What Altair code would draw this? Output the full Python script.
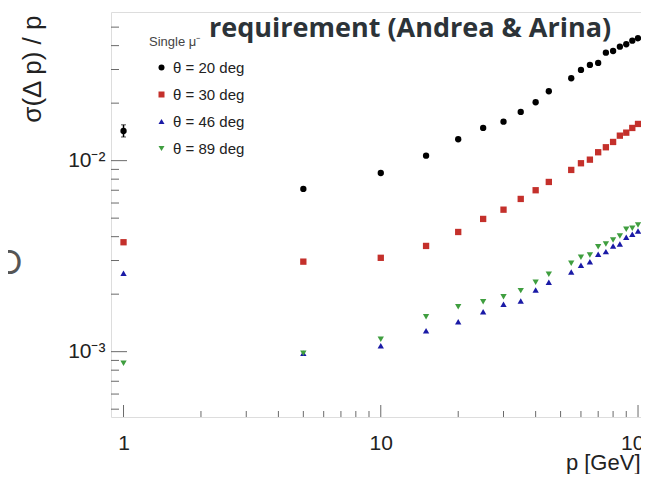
import altair as alt
import pandas as pd

# ---------------- data ----------------
p_values = [1, 5, 10, 15, 20, 25, 30, 35, 40, 45, 55, 60, 65, 70, 75, 80, 85, 90, 95, 100]

theta20 = [0.0143, 0.00711, 0.00862, 0.01062, 0.01294, 0.01483, 0.0160, 0.01799, 0.02021, 0.02309,
           0.0270, 0.02985, 0.0317, 0.03247, 0.03675, 0.03751, 0.03952, 0.04068, 0.04249, 0.04374]
theta30 = [0.00374, 0.00296, 0.00310, 0.003577, 0.004232, 0.004953, 0.005538, 0.006303, 0.0070, 0.007735,
           0.00894, 0.009691, 0.01012, 0.011066, 0.011751, 0.012527, 0.013514, 0.014014, 0.01483, 0.015565]
theta46 = [0.002573, 0.000981, 0.001075, 0.001288, 0.001436, 0.00162, 0.001771, 0.001842, 0.002104, 0.002309,
           0.002615, 0.002834, 0.00296, 0.003236, 0.00334, 0.003577, 0.003664, 0.003972, 0.004118, 0.004285]
theta89 = [0.00087, 0.000981, 0.00116, 0.001525, 0.00172, 0.001827, 0.001941, 0.002087, 0.002309, 0.002542,
           0.002903, 0.00312, 0.003208, 0.003545, 0.003664, 0.003845, 0.004034, 0.004373, 0.004426, 0.004606]

series_names = ["θ = 20 deg", "θ = 30 deg", "θ = 46 deg", "θ = 89 deg"]
series_colors = ["#000000", "#c4302b", "#1a1aa6", "#3f9e3f"]
series_shapes = ["circle", "square", "triangle-up", "triangle-down"]

# error bar on the first point of theta = 20 deg
err_p = [1]
err_lo = [0.0133]
err_hi = [0.0154]

x_major = [1, 10, 100]
x_minor = [2, 3, 4, 5, 6, 7, 8, 9, 20, 30, 40, 50, 60, 70, 80, 90]
y_major = [0.001, 0.01]
y_minor = [0.0005, 0.0006, 0.0007, 0.0008, 0.0009,
           0.002, 0.003, 0.004, 0.005, 0.006, 0.007, 0.008, 0.009,
           0.02, 0.03, 0.04, 0.05]

x_domain = [0.894, 102.7]
y_domain = [0.000455, 0.0600]

title_text = "requirement (Andrea & Arina)"
x_title = "p [GeV]"
y_title = "σ(Δ p) / p"
legend_title = "Single μ⁻"

# ---------------- tables ----------------
rows = []
for name, vals in zip(series_names, [theta20, theta30, theta46, theta89]):
    for p, v in zip(p_values, vals):
        rows.append({"series": name, "p": p, "val": v})
pts = pd.DataFrame(rows)
err = pd.DataFrame({"p": err_p, "lo": err_lo, "hi": err_hi})

W, H = 530, 405
FONT = "Liberation Sans"

xs = alt.Scale(type="log", domain=x_domain, nice=False)
ys = alt.Scale(type="log", domain=y_domain, nice=False)

legend = alt.Legend(
    title=legend_title, orient="none", legendX=38, legendY=24,
    titleFont=FONT, titleFontSize=13, titleFontWeight="normal", titleColor="#444444",
    titlePadding=11, labelFont=FONT, labelFontSize=15, labelColor="#222222",
    rowPadding=11, symbolOffset=5, labelOffset=4, padding=0, symbolSize=36,
    symbolStrokeWidth=0,
)

points = alt.Chart(pts).mark_point(filled=True, size=40, opacity=1, strokeWidth=0).encode(
    x=alt.X("p:Q", scale=xs, axis=alt.Axis(
        values=x_major, labelExpr="datum.value", ticks=False, domain=False, grid=False,
        labelFont=FONT, labelFontSize=21, labelColor="#222222", labelPadding=15,
        labelFlush=False, labelBound=False, labelOverlap=False,
        title=x_title, titleFont=FONT, titleFontSize=22, titleFontWeight="normal",
        titleColor="#222222", titleAnchor="end", titleAlign="right", titleBaseline="alphabetic",
        titleX=W - 1, titleY=52)),
    y=alt.Y("val:Q", scale=ys, axis=alt.Axis(
        values=y_major,
        labelExpr="datum.value == 0.01 ? '10⁻²' : (datum.value == 0.001 ? '10⁻³' : '')",
        ticks=False, domain=False, grid=False,
        labelFont=FONT, labelFontSize=21, labelColor="#222222", labelPadding=6,
        labelBaseline="middle", labelOverlap=False, labelBound=False, labelFlush=False,
        title=y_title, titleFont=FONT, titleFontSize=26, titleFontWeight="normal",
        titleColor="#222222", titleAngle=270, titleAlign="right", titleBaseline="alphabetic",
        titleX=-71, titleY=3)),
    color=alt.Color("series:N", scale=alt.Scale(domain=series_names, range=series_colors), legend=legend),
    shape=alt.Shape("series:N", scale=alt.Scale(domain=series_names, range=series_shapes), legend=legend),
    order=alt.Order("series:N"),
)

err_rule = alt.Chart(err).mark_rule(color="#000000", strokeWidth=1.5).encode(
    x=alt.X("p:Q", scale=xs), y=alt.Y("lo:Q", scale=ys), y2="hi:Q")
err_cap_lo = alt.Chart(err).mark_tick(color="#000000", orient="horizontal", size=5, thickness=1).encode(
    x=alt.X("p:Q", scale=xs), y=alt.Y("lo:Q", scale=ys))
err_cap_hi = alt.Chart(err).mark_tick(color="#000000", orient="horizontal", size=5, thickness=1).encode(
    x=alt.X("p:Q", scale=xs), y=alt.Y("hi:Q", scale=ys))

TICK = "#6a6a6a"
xmaj = alt.Chart(pd.DataFrame({"t": x_major})).mark_rule(color=TICK, strokeWidth=1).encode(
    x=alt.X("t:Q", scale=xs), y=alt.value(H), y2=alt.value(H - 12))
xmin = alt.Chart(pd.DataFrame({"t": x_minor})).mark_rule(color=TICK, strokeWidth=1).encode(
    x=alt.X("t:Q", scale=xs), y=alt.value(H), y2=alt.value(H - 6))
ymaj = alt.Chart(pd.DataFrame({"t": y_major})).mark_rule(color=TICK, strokeWidth=1).encode(
    y=alt.Y("t:Q", scale=ys), x=alt.value(0), x2=alt.value(16))
ymin = alt.Chart(pd.DataFrame({"t": y_minor})).mark_rule(color=TICK, strokeWidth=1).encode(
    y=alt.Y("t:Q", scale=ys), x=alt.value(0), x2=alt.value(8))

one = pd.DataFrame({"k": [0]})
title = alt.Chart(one).mark_text(
    text=title_text, font="Open Sans", fontWeight=700, fontSize=27, color="#2c3338",
    align="left", baseline="alphabetic").encode(x=alt.value(98), y=alt.value(25))
side_o = alt.Chart(one).mark_text(
    text="O", font="Lato", fontSize=32, color="#555555", align="right",
    baseline="alphabetic").encode(x=alt.value(-89), y=alt.value(262))

chart = alt.layer(
    xmin, xmaj, ymin, ymaj, err_rule, err_cap_lo, err_cap_hi, points, title, side_o
).properties(
    width=W, height=H,
    autosize=alt.AutoSizeParams(type="none"),
    padding={"left": 103, "top": 4, "right": 0, "bottom": 57},
).configure_view(stroke="#707070", strokeWidth=1.5).configure(background="white")

chart.save("out.html", embed_options={"renderer": "svg", "actions": False})
